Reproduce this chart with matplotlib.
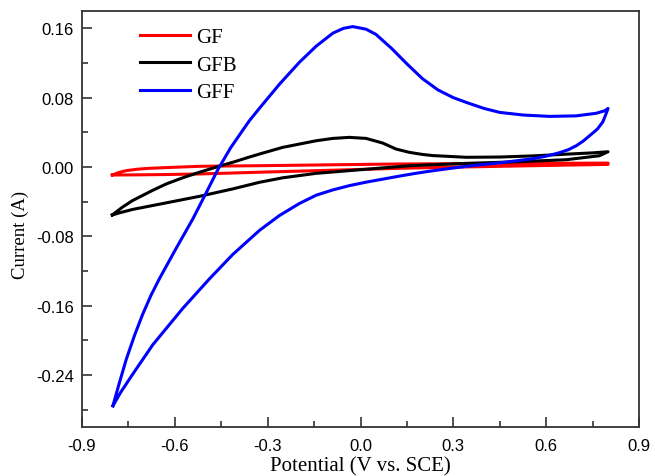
import matplotlib
matplotlib.use("Agg")
import matplotlib.pyplot as plt
from matplotlib.ticker import MultipleLocator

# GF (red)
gf_x = [-0.802, -0.78, -0.757, -0.72, -0.682, -0.60, -0.52, -0.42, -0.326, -0.10, 0.126, 0.30, 0.45, 0.62, 0.80,
        0.80, 0.62, 0.45, 0.30, 0.126, -0.10, -0.326, -0.42, -0.52, -0.63, -0.737, -0.78, -0.802]
gf_y = [-0.0092, -0.0062, -0.0042, -0.0025, -0.0015, -0.0003, 0.0008, 0.0012, 0.0015, 0.0025, 0.0035, 0.0038, 0.0040, 0.0043, 0.0045,
        0.0030, 0.0019, 0.0008, -0.0002, -0.0015, -0.0038, -0.0060, -0.0070, -0.0080, -0.0087, -0.0091, -0.0092, -0.0092]

# GFB (black)
gfb_x = [-0.802, -0.77, -0.737, -0.672, -0.628, -0.575, -0.52, -0.456, -0.413, -0.359, -0.326, -0.252, -0.197,
         -0.143, -0.089, -0.036, 0.018, 0.072, 0.115, 0.158, 0.20, 0.233, 0.342, 0.45, 0.556, 0.665, 0.75, 0.80,
         0.772, 0.665, 0.503, 0.342, 0.158, -0.036, -0.143, -0.252, -0.326, -0.413, -0.52, -0.628, -0.737, -0.78, -0.802]
gfb_y = [-0.0553, -0.0465, -0.0388, -0.0270, -0.0196, -0.0125, -0.0060, 0.0010, 0.0054, 0.0115, 0.0150, 0.0226, 0.0265,
         0.0303, 0.0330, 0.0342, 0.0330, 0.0276, 0.0207, 0.0169, 0.0145, 0.0132, 0.0112, 0.0115, 0.0128, 0.0148, 0.0163, 0.0176,
         0.0130, 0.0084, 0.0060, 0.0042, 0.0015, -0.0042, -0.0073, -0.0125, -0.0176, -0.0253, -0.0338, -0.0414, -0.0490, -0.0530, -0.0553]

# GFF (blue)
gff_x = [-0.800, -0.780, -0.757, -0.730, -0.704, -0.677, -0.650, -0.596, -0.542, -0.499, -0.461, -0.420, -0.391,
         -0.360, -0.326, -0.262, -0.197, -0.143, -0.089, -0.055, -0.025, 0.018, 0.050, 0.100, 0.150, 0.200,
         0.250, 0.300, 0.350, 0.400, 0.450, 0.525, 0.611, 0.697, 0.762, 0.790, 0.800,
         0.792, 0.783, 0.766, 0.755, 0.740, 0.720, 0.697, 0.672, 0.643, 0.600, 0.556, 0.450, 0.342, 0.286, 0.230,
         0.180, 0.126, 0.072, 0.018, -0.036, -0.090, -0.143, -0.197, -0.262, -0.326, -0.413, -0.488, -0.574,
         -0.671, -0.736, -0.775, -0.800]
gff_y = [-0.2755, -0.2500, -0.2220, -0.1940, -0.1700, -0.1480, -0.1290, -0.0940, -0.0600, -0.0300, -0.0030, 0.0220, 0.0370,
         0.0530, 0.0680, 0.0955, 0.1210, 0.1395, 0.1545, 0.1600, 0.1620, 0.1590, 0.1530, 0.1370, 0.1190, 0.1020,
         0.0890, 0.0800, 0.0735, 0.0675, 0.0630, 0.0600, 0.0584, 0.0590, 0.0620, 0.0650, 0.0676,
         0.0600, 0.0520, 0.0440, 0.0405, 0.0360, 0.0300, 0.0245, 0.0200, 0.0165, 0.0125, 0.0095, 0.0048, 0.0008, -0.0018, -0.0045,
         -0.0072, -0.0105, -0.0140, -0.0175, -0.0215, -0.0265, -0.0325, -0.0420, -0.0560, -0.0730, -0.1010, -0.1290, -0.1630,
         -0.2050, -0.2390, -0.2600, -0.2755]

x_ticks = [-0.9, -0.6, -0.3, 0.0, 0.3, 0.6, 0.9]
y_ticks = [-0.24, -0.16, -0.08, 0.00, 0.08, 0.16]

fig = plt.figure(figsize=(6.55, 4.77), dpi=100)
ax = fig.add_axes([82/655, 1 - 428/477, (639-82)/655, (428-12)/477])

ax.plot(gf_x, gf_y, color='#ff0000', lw=2.2, label='GF', solid_joinstyle='round')
ax.plot(gfb_x, gfb_y, color='#000000', lw=2.2, label='GFB', solid_joinstyle='round')
ax.plot(gff_x, gff_y, color='#0000ff', lw=2.2, label='GFF', solid_joinstyle='round')

ax.set_xlim(-0.9, 0.9)
ax.set_ylim(-0.30, 0.18)
ax.set_xticks(x_ticks)
ax.set_xticklabels([f"{v:.1f}" for v in x_ticks])
ax.set_yticks(y_ticks)
ax.set_yticklabels([f"{v:.2f}" for v in y_ticks])
ax.xaxis.set_minor_locator(MultipleLocator(0.15))
ax.yaxis.set_minor_locator(MultipleLocator(0.04))
ax.tick_params(which='both', direction='in', labelsize=12, width=1.2, color='#333333')
ax.tick_params(which='major', length=7)
ax.tick_params(which='minor', length=4)
ax.tick_params(axis='x', pad=8)
ax.tick_params(axis='y', pad=6)
for lab in ax.get_xticklabels() + ax.get_yticklabels():
    lab.set_family('Liberation Sans')
for s in ax.spines.values():
    s.set_linewidth(1.3)
    s.set_color('#333333')

xl = ax.set_xlabel('Potential (V vs. SCE)', family='Liberation Serif', fontsize=15)
ax.xaxis.set_label_coords(0.5, -(471 - 428) / 416)
xl.set_va('baseline')
ax.set_ylabel('Current (A)', family='Liberation Serif', fontsize=13.5, va='center')
ax.yaxis.set_label_coords(-(82 - 20) / 557, (428 - 235) / 416)

leg = ax.legend(loc='upper left', bbox_to_anchor=(0.078, 0.995), frameon=False,
                prop={'family': 'Liberation Serif', 'size': 15}, handlelength=2.4,
                labelspacing=0.37, handletextpad=0.3, borderpad=0.2)

fig.savefig('out.png', dpi=100)
